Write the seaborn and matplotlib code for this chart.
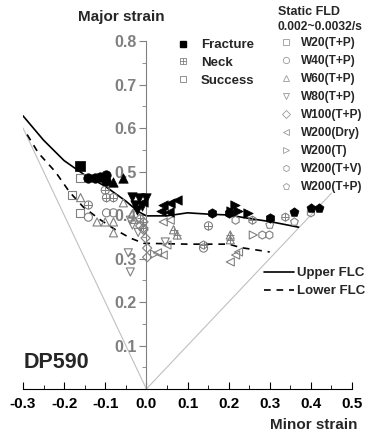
import matplotlib
matplotlib.use("Agg")
import matplotlib.pyplot as plt
from matplotlib.lines import Line2D
from matplotlib.ticker import MultipleLocator
import seaborn as sns
import pandas as pd

sns.set_style("white")
plt.rcParams["font.family"] = ["Liberation Sans", "DejaVu Sans"]
plt.rcParams["font.weight"] = "bold"

# Strain paths (grey guide lines)
path_minor = [-0.3, 0.0, 0.45]
path_major = [0.6, 0.0, 0.45]

# Forming limit curves
upper_minor = [-0.3, -0.25, -0.2, -0.15, -0.1, -0.05, -0.02, 0.0, 0.05, 0.1, 0.15, 0.2, 0.25, 0.3, 0.37]
upper_major = [0.628, 0.572, 0.525, 0.492, 0.466, 0.432, 0.408, 0.398, 0.398, 0.405, 0.402, 0.4, 0.392, 0.385, 0.372]
lower_minor = [-0.29, -0.263, -0.221, -0.187, -0.153, -0.112, -0.075, -0.039, -0.007, 0.1, 0.2, 0.23, 0.3]
lower_major = [0.585, 0.543, 0.499, 0.453, 0.418, 0.389, 0.366, 0.347, 0.335, 0.333, 0.333, 0.325, 0.315]

# Fracture points
fracture_minor = [-0.161, -0.141, -0.124, -0.112, -0.097, -0.097, -0.08, -0.058,
                  -0.034, -0.019, -0.002, -0.027, -0.022, -0.01,
                  -0.007, 0.04, 0.058, 0.075, 0.035, 0.056,
                  0.205, 0.216, 0.224, 0.246,
                  0.16, 0.2, 0.3, 0.36, 0.40, 0.42]
fracture_major = [0.513, 0.485, 0.485, 0.487, 0.492, 0.478, 0.476, 0.485,
                  0.441, 0.439, 0.439, 0.423, 0.411, 0.42,
                  0.43, 0.423, 0.428, 0.435, 0.41, 0.407,
                  0.41, 0.423, 0.41, 0.405,
                  0.405, 0.405, 0.393, 0.407, 0.416, 0.416]
fracture_series = ["W20(T+P)", "W40(T+P)", "W40(T+P)", "W40(T+P)", "W40(T+P)", "W40(T+P)", "W60(T+P)", "W60(T+P)",
                   "W80(T+P)", "W80(T+P)", "W80(T+P)", "W80(T+P)", "W80(T+P)", "W80(T+P)",
                   "W200(Dry)", "W200(Dry)", "W200(Dry)", "W200(Dry)", "W200(Dry)", "W200(Dry)",
                   "W200(T)", "W200(T)", "W200(T)", "W200(T)",
                   "W200(T+V)", "W200(T+V)", "W200(T+V)", "W200(T+P)", "W200(T+P)", "W200(T+P)"]

# Neck points
neck_minor = [-0.141, -0.1, -0.097, -0.08, 0.151,
              -0.007, -0.007, -0.015,
              0.066, 0.075, 0.204, 0.204,
              0.139, 0.258, 0.338]
neck_major = [0.423, 0.457, 0.44, 0.44, 0.375,
              0.384, 0.370, 0.392,
              0.366, 0.354, 0.354, 0.343,
              0.331, 0.388, 0.395]
neck_series = ["W40(T+P)"] * 5 + ["W100(T+P)"] * 3 + ["W60(T+P)"] * 4 + ["W200(T+V)"] * 3

# Success points
success_minor = [-0.161, -0.18, -0.161,
                 -0.141, -0.097, -0.08, 0.139,
                 -0.16, -0.12, -0.1, -0.08, -0.056, -0.08, -0.03,
                 -0.039, -0.034, -0.039, -0.044, -0.02, 0.046,
                 -0.007, -0.002, 0.002, 0.002, -0.015,
                 0.027, 0.041, 0.041, 0.058, 0.05, 0.204, 0.217, 0.224,
                 0.26, 0.02,
                 0.282, 0.299, 0.40, 0.217,
                 0.30, 0.36]
success_major = [0.485, 0.446, 0.405,
                 0.395, 0.405, 0.405, 0.324,
                 0.44, 0.384, 0.384, 0.384, 0.428, 0.359, 0.39,
                 0.388, 0.377, 0.269, 0.313, 0.36, 0.338,
                 0.366, 0.347, 0.324, 0.303, 0.375,
                 0.313, 0.308, 0.384, 0.388, 0.331, 0.292, 0.308, 0.315,
                 0.354, 0.31,
                 0.354, 0.354, 0.405, 0.388,
                 0.377, 0.384]
success_series = (["W20(T+P)"] * 3 + ["W40(T+P)"] * 4 + ["W60(T+P)"] * 7 + ["W80(T+P)"] * 6
                  + ["W100(T+P)"] * 5 + ["W200(Dry)"] * 8 + ["W200(T)"] * 2
                  + ["W200(T+V)"] * 4 + ["W200(T+P)"] * 2)

series_names = ["W20(T+P)", "W40(T+P)", "W60(T+P)", "W80(T+P)", "W100(T+P)",
                "W200(Dry)", "W200(T)", "W200(T+V)", "W200(T+P)"]
series_markers = ["s", "o", "^", "v", "D", "<", ">", "h", "p"]
marker_of = dict(zip(series_names, series_markers))

fracture = pd.DataFrame({"minor": fracture_minor, "major": fracture_major, "series": fracture_series})
neck = pd.DataFrame({"minor": neck_minor, "major": neck_major, "series": neck_series})
success = pd.DataFrame({"minor": success_minor, "major": success_major, "series": success_series})

grey = "#808080"
fig = plt.figure(figsize=(3.69, 4.38), dpi=100)
ax = fig.add_axes([23 / 369, 1 - 389 / 438, 329 / 369, 348 / 438])

sns.lineplot(x=path_minor, y=path_major, sort=False, estimator=None, color="#c0c0c0", lw=0.8, ax=ax)
sns.lineplot(x=upper_minor, y=upper_major, sort=False, estimator=None, color="black", lw=1.2, ax=ax)
sns.lineplot(x=lower_minor, y=lower_major, sort=False, estimator=None, color="black", lw=1.2,
             linestyle=(0, (4, 3.5)), ax=ax)

for name in series_names:
    m = marker_of[name]
    ms = 34 if m != "D" else 22
    d = success[success.series == name]
    if len(d):
        sns.scatterplot(data=d, x="minor", y="major", marker=m, s=ms, facecolor="none",
                        edgecolor=grey, linewidth=0.8, ax=ax, zorder=3)
    d = neck[neck.series == name]
    if len(d):
        sns.scatterplot(data=d, x="minor", y="major", marker=m, s=ms, facecolor="none",
                        edgecolor=grey, linewidth=0.8, ax=ax, zorder=3)
        sns.scatterplot(data=d, x="minor", y="major", marker="+", s=ms * 0.8, color=grey,
                        linewidth=0.7, ax=ax, zorder=3)
    d = fracture[fracture.series == name]
    if len(d):
        sns.scatterplot(data=d, x="minor", y="major", marker=m, s=ms + 12, color="black",
                        edgecolor="black", linewidth=0.5, ax=ax, zorder=4)

ax.set_xlim(-0.3, 0.5)
ax.set_ylim(0, 0.8)
ax.set_xlabel("")
ax.set_ylabel("")
ax.spines["top"].set_visible(False)
ax.spines["right"].set_visible(False)
ax.spines["left"].set_position(("data", 0))
ax.spines["left"].set_color(grey)
ax.spines["bottom"].set_color("black")
ax.set_xticks([-0.3, -0.2, -0.1, 0.0, 0.1, 0.2, 0.3, 0.4, 0.5])
ax.set_xticklabels(["-0.3", "-0.2", "-0.1", "0.0", "0.1", "0.2", "0.3", "0.4", "0.5"])
ax.set_yticks([0.1, 0.2, 0.3, 0.4, 0.5, 0.6, 0.7, 0.8])
ax.xaxis.set_minor_locator(MultipleLocator(0.05))
ax.yaxis.set_minor_locator(MultipleLocator(0.05))
ax.tick_params(axis="x", which="both", direction="in", bottom=True, colors="black",
               labelsize=11, pad=6)
ax.tick_params(axis="x", which="major", length=5)
ax.tick_params(axis="x", which="minor", length=3)
ax.tick_params(axis="y", which="both", direction="out", left=True, color=grey,
               labelcolor=grey, labelsize=11.5, pad=2)
ax.tick_params(axis="y", which="major", length=5)
ax.tick_params(axis="y", which="minor", length=3)
for t in ax.get_xticklabels() + ax.get_yticklabels():
    t.set_fontweight("bold")

fig.text(78 / 369, 1 - 17 / 438, "Major strain", fontsize=11, fontweight="bold", va="center")
fig.text(357 / 369, 1 - 425 / 438, "Minor strain", fontsize=11, fontweight="bold", va="center", ha="right")
fig.text(24 / 369, 1 - 363 / 438, "DP590", fontsize=15.5, fontweight="bold", va="center")

# status legend
st_handles = [
    Line2D([], [], marker="s", ls="", color="black", ms=5),
    (Line2D([], [], marker="s", ls="", mfc="none", mec=grey, ms=5, mew=0.6),
     Line2D([], [], marker="+", ls="", color=grey, ms=4, mew=0.6)),
    Line2D([], [], marker="s", ls="", mfc="none", mec=grey, ms=5, mew=0.6),
]
fig.legend(st_handles, ["Fracture", "Neck", "Success"], loc="upper left",
           bbox_to_anchor=(176 / 369, 1 - 39 / 438), frameon=False, borderpad=0,
           borderaxespad=0, handlelength=1.0, handletextpad=0.9, labelspacing=0.42,
           prop={"weight": "bold", "size": 9.5})

# series legend
fig.text(278 / 369, 1 - 12 / 438, "Static FLD", fontsize=9, fontweight="bold", va="center")
fig.text(278 / 369, 1 - 27 / 438, "0.002~0.0032/s", fontsize=8.7, fontweight="bold", va="center")
se_handles = [Line2D([], [], marker=m, ls="", mfc="none", mec="#999999", ms=4.5, mew=0.6)
              for m in series_markers]
fig.legend(se_handles, series_names, loc="upper left", bbox_to_anchor=(281 / 369, 1 - 37 / 438),
           frameon=False, borderpad=0, borderaxespad=0, handlelength=0.9, handletextpad=0.8,
           labelspacing=0.5, prop={"weight": "bold", "size": 8.6})

# FLC legend
flc_handles = [Line2D([], [], color="black", lw=1.2),
               Line2D([], [], color="black", lw=1.2, ls=(0, (4, 3.5)))]
fig.legend(flc_handles, ["Upper FLC", "Lower FLC"], loc="upper left", bbox_to_anchor=(264 / 369, 1 - 267 / 438),
           frameon=False, borderpad=0, borderaxespad=0, handlelength=2.3, handletextpad=0.2,
           labelspacing=0.45, prop={"weight": "bold", "size": 9.5})

fig.savefig("out.png", dpi=100)
